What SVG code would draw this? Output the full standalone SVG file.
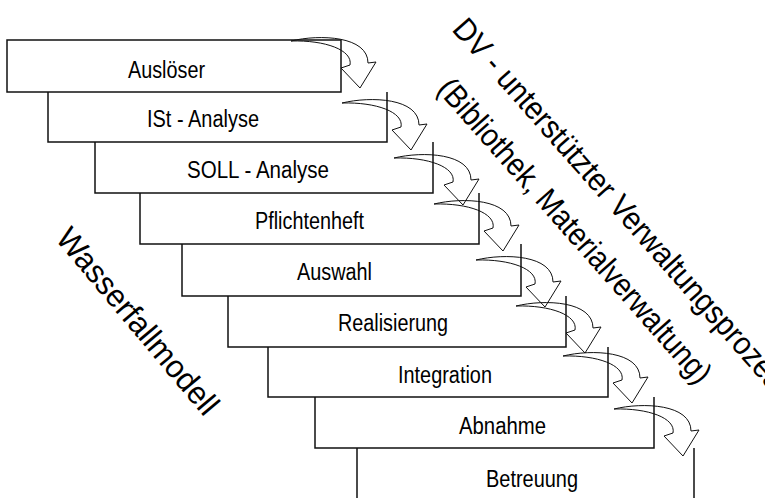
<svg xmlns="http://www.w3.org/2000/svg" xmlns:xlink="http://www.w3.org/1999/xlink" width="765" height="498" viewBox="0 0 765 498">
<style>
.box{fill:none;stroke:#111;stroke-width:1.5}
.arr{fill:none;stroke:#111;stroke-width:1;stroke-linejoin:miter}
.lbl{font-family:"Liberation Sans",Arial,sans-serif;font-size:23px;fill:#000}
.big{font-family:"Liberation Sans",Arial,sans-serif;font-size:32px;fill:#000}
</style>
<defs>
<path id="cArrow" d="M-69,-47 C-40,-54 8,-52 8,-25 L16,-26 L0,0 L-19,-20 L-10,-23 C-7,-38 -35,-48 -69,-47 Z"/>
</defs>
<rect width="765" height="498" fill="#fff"/>
<g id="n-ausloeser">
<rect class="box" x="7" y="40" width="334" height="52"/>
<text class="lbl" x="128" y="78" textLength="77" lengthAdjust="spacingAndGlyphs">Auslöser</text>
</g>
<g id="n-ist">
<path class="box" d="M48,92 V142 H387 V92"/>
<text class="lbl" x="147" y="127" textLength="112" lengthAdjust="spacingAndGlyphs">ISt - Analyse</text>
</g>
<g id="n-soll">
<path class="box" d="M95,142 V193 H433 V142"/>
<text class="lbl" x="187" y="178" textLength="142" lengthAdjust="spacingAndGlyphs">SOLL - Analyse</text>
</g>
<g id="n-pflichtenheft">
<path class="box" d="M140,193 V244 H479 V193"/>
<text class="lbl" x="255" y="229" textLength="109" lengthAdjust="spacingAndGlyphs">Pflichtenheft</text>
</g>
<g id="n-auswahl">
<path class="box" d="M182,244 V296 H521 V244"/>
<text class="lbl" x="297" y="280" textLength="75" lengthAdjust="spacingAndGlyphs">Auswahl</text>
</g>
<g id="n-realisierung">
<path class="box" d="M228,296 V347 H566 V296"/>
<text class="lbl" x="338" y="331" textLength="110" lengthAdjust="spacingAndGlyphs">Realisierung</text>
</g>
<g id="n-integration">
<path class="box" d="M268,347 V397 H608 V347"/>
<text class="lbl" x="398" y="383" textLength="94" lengthAdjust="spacingAndGlyphs">Integration</text>
</g>
<g id="n-abnahme">
<path class="box" d="M315,397 V448 H654 V397"/>
<text class="lbl" x="459" y="434" textLength="87" lengthAdjust="spacingAndGlyphs">Abnahme</text>
</g>
<g id="n-betreuung">
<path class="box" d="M357,448 V498 M694,448 V498"/>
<text class="lbl" x="486" y="487" textLength="92" lengthAdjust="spacingAndGlyphs">Betreuung</text>
</g>
<g id="connectors">
<use class="arr" xlink:href="#cArrow" x="360" y="88"/>
<use class="arr" xlink:href="#cArrow" x="411" y="150"/>
<use class="arr" xlink:href="#cArrow" x="463" y="205"/>
<use class="arr" xlink:href="#cArrow" x="503" y="251"/>
<use class="arr" xlink:href="#cArrow" x="545" y="307"/>
<use class="arr" xlink:href="#cArrow" x="585" y="353"/>
<use class="arr" xlink:href="#cArrow" x="632" y="403"/>
<use class="arr" xlink:href="#cArrow" x="683" y="456"/>
</g>
<g id="titles">
<text class="big" transform="translate(451,30) rotate(48.5)" x="0" y="0" textLength="497" lengthAdjust="spacingAndGlyphs">DV - unterstützter Verwaltungsprozess</text>
<text class="big" transform="translate(436,90) rotate(48.5)" x="0" y="0" textLength="395" lengthAdjust="spacingAndGlyphs">(Bibliothek, Materialverwaltung)</text>
<text class="big" transform="translate(54.5,239) rotate(50)" x="0" y="0" textLength="233" lengthAdjust="spacingAndGlyphs">Wasserfallmodell</text>
</g>
</svg>
